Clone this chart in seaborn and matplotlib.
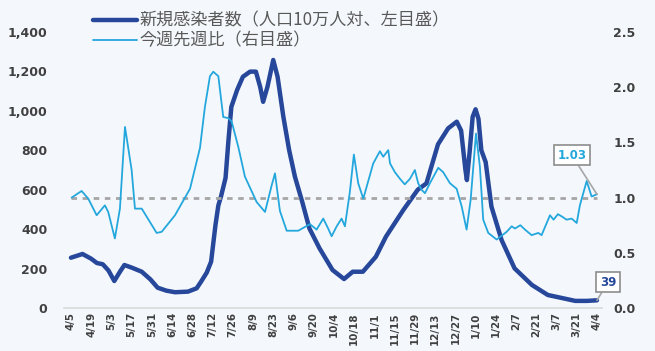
import matplotlib
matplotlib.use("Agg")
import matplotlib.pyplot as plt
import seaborn as sns
import pandas as pd
from matplotlib.lines import Line2D

# ---------------- data ----------------
start_date = "2021-04-05"
tick_labels = ["4/5", "4/19", "5/3", "5/17", "5/31", "6/14", "6/28", "7/12", "7/26",
               "8/9", "8/23", "9/6", "9/20", "10/4", "10/18", "11/1", "11/15", "11/29",
               "12/13", "12/27", "1/10", "1/24", "2/7", "2/21", "3/7", "3/21", "4/4"]

# new cases per 100k (left axis), day offset from start_date
case_days = [0, 8, 14, 18, 22, 26, 30, 34, 37, 42, 49, 55, 60, 66, 72, 81, 87, 90, 94, 97,
             100, 102, 104, 107, 109, 111, 115, 119, 124, 128, 131, 133, 136, 140, 143, 147,
             151, 155, 160, 165, 172, 181, 189, 195, 202, 211, 218, 230, 240, 246, 254, 261,
             267, 270, 273, 274, 276, 278, 280, 282, 284, 287, 291, 298, 307, 319, 330, 349,
             357, 364]
case_vals = [255, 274, 250, 228, 222, 190, 137, 185, 218, 205, 184, 145, 103, 88, 80, 83, 100,
             133, 180, 235, 420, 520, 570, 660, 850, 1020, 1106, 1173, 1199, 1199, 1120, 1046,
             1122, 1258, 1173, 970, 801, 666, 540, 404, 303, 193, 147, 184, 184, 260, 362, 497,
             600, 632, 830, 911, 945, 900, 700, 649, 800, 970, 1008, 960, 800, 740, 514, 345,
             201, 117, 66, 36, 36, 39]

# week-on-week ratio (right axis)
ratio_days = [0.5, 7.4, 12, 17.8, 23.5, 25.8, 30.4, 33.9, 37.4, 42, 44.3, 49, 59.3, 62.8, 72,
              82.4, 89.3, 92.7, 96.2, 98.5, 102, 105.4, 108.9, 111.2, 115.8, 120.4, 128.5,
              134.3, 138.9, 141.2, 144.6, 149.3, 157.3, 165.4, 170, 174.6, 178, 180.4, 183.9,
              187.3, 189.6, 193, 195.8, 198.8, 202.3, 209.2, 213.8, 216.1, 219.6, 220.8, 224.2,
              227.7, 231, 234.6, 238, 240.3, 242.7, 245, 248.4, 254.2, 257.6, 262.3, 266.9, 270.4,
              273.8, 276.6, 280.3, 283, 285.3, 288.8, 294.6, 301.5, 305, 307.3, 311, 314.2, 318.8,
              323.4, 325.7, 331.5, 334, 337, 339.6, 343, 346.5, 350, 352.2, 356.9, 360.3, 364]
ratio_vals = [1.00, 1.06, 0.99, 0.84, 0.93, 0.87, 0.63, 0.90, 1.64, 1.25, 0.90, 0.90, 0.68,
              0.69, 0.84, 1.08, 1.45, 1.82, 2.10, 2.14, 2.10, 1.73, 1.72, 1.69, 1.46, 1.19, 0.96,
              0.87, 1.11, 1.22, 0.88, 0.70, 0.70, 0.76, 0.71, 0.81, 0.72, 0.65, 0.74, 0.81, 0.74,
              1.05, 1.39, 1.13, 0.99, 1.31, 1.42, 1.37, 1.43, 1.31, 1.23, 1.17, 1.12, 1.17, 1.25,
              1.13, 1.07, 1.04, 1.13, 1.27, 1.23, 1.13, 1.08, 0.92, 0.71, 0.98, 1.58, 1.28, 0.80,
              0.68, 0.62, 0.69, 0.74, 0.72, 0.75, 0.71, 0.66, 0.68, 0.66, 0.84, 0.80, 0.85, 0.83,
              0.80, 0.81, 0.77, 0.93, 1.15, 1.01, 1.03]

label_cases = "新規感染者数（人口10万人対、左目盛）"
label_ratio = "今週先週比（右目盛）"
left_ticks = [0, 200, 400, 600, 800, 1000, 1200, 1400]
right_ticks = [0.0, 0.5, 1.0, 1.5, 2.0, 2.5]

# ---------------- style ----------------
BG = "#F4F8FC"
DARK = "#27489A"
LIGHT = "#24A7DD"
TXT = "#404040"

sns.set_theme(style="white")
plt.rcParams["font.family"] = ["DejaVu Sans", "Noto Sans CJK JP"]

start = pd.Timestamp(start_date)
case_df = pd.DataFrame({"date": start + pd.to_timedelta(case_days, unit="D"), "v": case_vals})
ratio_df = pd.DataFrame({"date": start + pd.to_timedelta(ratio_days, unit="D"), "v": ratio_vals})
tick_dates = pd.date_range(start, periods=len(tick_labels), freq="14D")

fig = plt.figure(figsize=(6.55, 3.51), dpi=100, facecolor=BG)
ax = fig.add_axes([64 / 655, 1 - 308 / 351, (602 - 64) / 655, (308 - 32) / 351])
ax.set_facecolor(BG)
ax2 = ax.twinx()

sns.lineplot(data=case_df, x="date", y="v", ax=ax, color=DARK, lw=3.2, legend=False)
sns.lineplot(data=ratio_df, x="date", y="v", ax=ax2, color=LIGHT, lw=1.3, legend=False)

ax2.hlines(1.0, case_df["date"].iloc[0], case_df["date"].iloc[-1], colors="#A6A6A6",
           linestyles=(0, (2, 2)), lw=2, zorder=1)

ax.set_xlim(start - pd.Timedelta(days=4.8), start + pd.Timedelta(days=367.5))
ax.set_ylim(0, 1400)
ax2.set_ylim(0, 2.5)

ax.set_xticks(tick_dates)
ax.set_xticklabels(tick_labels, rotation=90, fontsize=7.4, fontweight="bold", color=TXT)
ax.set_yticks(left_ticks)
ax.set_yticklabels([f"{t:,}" for t in left_ticks], fontsize=9, fontweight="bold", color=TXT)
ax2.set_yticks(right_ticks)
ax2.set_yticklabels([f"{t:.1f}" for t in right_ticks], fontsize=9, fontweight="bold", color=TXT)
ax.tick_params(axis="x", length=0, pad=3)
ax.tick_params(axis="y", length=0, pad=12)
ax2.tick_params(axis="y", length=0, pad=8)
ax.set_xlabel("")
ax.set_ylabel("")
ax2.set_ylabel("")
ax.grid(False)
ax2.grid(False)

for a in (ax, ax2):
    for s in ("top", "left", "right", "bottom"):
        a.spines[s].set_visible(False)
ax.spines["bottom"].set_visible(True)
ax.spines["bottom"].set_color("#D9D9D9")
ax.spines["bottom"].set_linewidth(1.2)

# annotations
last_r = ratio_df.iloc[-1]
ax2.annotate(f"{last_r['v']:.2f}", xy=(last_r["date"], last_r["v"]), xytext=(-18, 28),
             textcoords="offset points", ha="center", va="center",
             fontsize=8.5, fontweight="bold", color=LIGHT,
             bbox=dict(boxstyle="square,pad=0.3", fc="white", ec="#8C8C8C", lw=1.2),
             arrowprops=dict(arrowstyle="-", color="#A6A6A6", lw=1.2, shrinkA=0, shrinkB=0))
last_c = case_df.iloc[-1]
ax.annotate(f"{last_c['v']:,}", xy=(last_c["date"], last_c["v"]), xytext=(8, 13),
            textcoords="offset points", ha="center", va="center",
            fontsize=8.5, fontweight="bold", color=DARK,
            bbox=dict(boxstyle="square,pad=0.3", fc="white", ec="#8C8C8C", lw=1.2),
            arrowprops=dict(arrowstyle="-", color="#A6A6A6", lw=1.2, shrinkA=0, shrinkB=0))

# legend
handles = [Line2D([], [], color=DARK, lw=3.2), Line2D([], [], color=LIGHT, lw=1.3)]
leg = fig.legend(handles, [label_cases, label_ratio], loc="upper left",
                 bbox_to_anchor=(86 / 655, 1 - 5 / 351), frameon=False,
                 prop={"family": ["Noto Sans CJK JP", "DejaVu Sans"], "size": 12.3},
                 handlelength=2.6, handletextpad=0.15, labelspacing=0.1, borderaxespad=0)
for t in leg.get_texts():
    t.set_color("#595959")

fig.savefig("out.png", dpi=100, facecolor=BG)
